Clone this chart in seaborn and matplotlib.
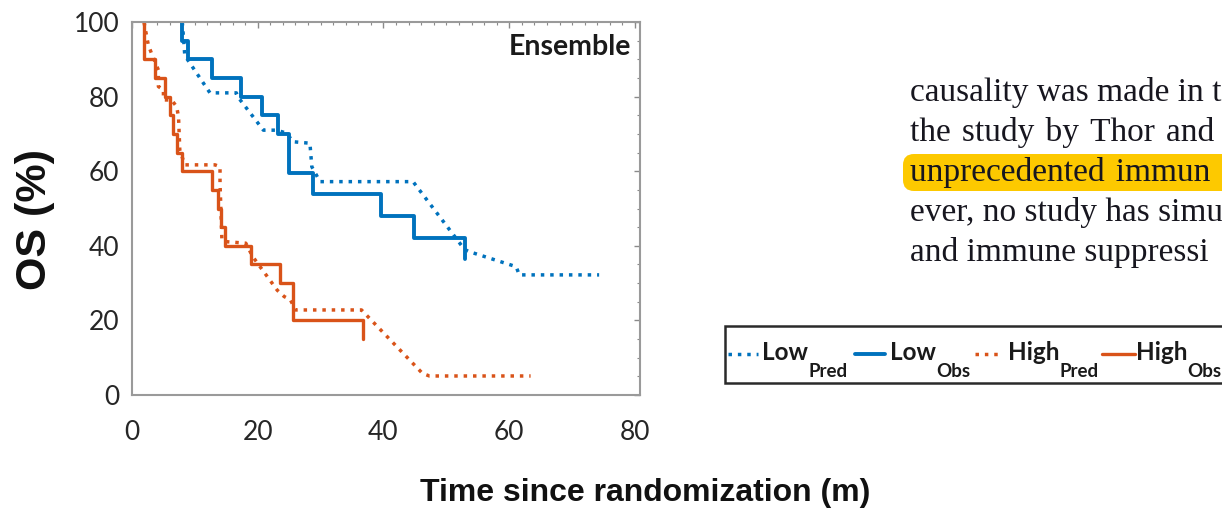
import numpy as np
import pandas as pd
import matplotlib
matplotlib.use("Agg")
import matplotlib.pyplot as plt
import seaborn as sns
from matplotlib.ticker import MultipleLocator
from matplotlib.patches import FancyBboxPatch, Rectangle
from matplotlib.lines import Line2D
from matplotlib.transforms import IdentityTransform

# ---------------- data ----------------
# Observed Kaplan-Meier curves (step points, steps-post)
low_obs_t = [8.0, 8.0, 8.95, 12.65, 17.4, 20.6, 23.2, 25.0, 28.8, 39.6, 44.9, 52.9]
low_obs_s = [100, 95, 90, 85, 80, 75, 70, 59.5, 54, 48, 42, 36.5]

high_obs_t = [1.9, 1.9, 3.66, 5.25, 6.04, 6.57, 7.1, 7.9, 12.65, 13.7, 14.2, 14.8,
              19.0, 23.5, 25.6, 36.7]
high_obs_s = [100, 90, 85, 80, 75, 70, 65, 60, 55, 50, 45, 40, 35, 30, 20, 15]

# Predicted curves (vertices)
low_pred_t = [8.0, 8.4, 12.4, 16.6, 16.8, 20.9, 23.0, 24.6, 25.6, 28.3, 28.6, 29.9,
              44.7, 52.9, 53.7, 61.1, 61.6, 74.3]
low_pred_s = [100, 91, 81, 81, 80, 71, 71, 70.2, 67.9, 67.5, 61.2, 57.2,
              57.2, 39, 38.4, 34.4, 32.2, 32.2]

high_pred_t = [1.9, 2.6, 3.1, 4.2, 4.2, 5.0, 5.0, 6.3, 7.1, 7.4, 7.6, 8.4, 13.2, 14.0,
               14.0, 14.3, 15.0, 18.1, 19.2, 23.1, 24.2, 25.2, 26.0, 36.5, 46.2, 47.3, 63.4]
high_pred_s = [100, 93.8, 91.6, 87.1, 82.7, 81.8, 79.1, 79.1, 77.3, 74.6, 65.7, 61.7, 61.7, 61.2,
               56.7, 41.6, 41.1, 40.7, 37.1, 28.1, 26.4, 25.5, 22.8, 22.8, 5.8, 5.1, 5.1]

x_ticks = [0, 20, 40, 60, 80]
y_ticks = [0, 20, 40, 60, 80, 100]
legend_main = ["Low", "Low", "High", "High"]
legend_sub = ["Pred", "Obs", "Pred", "Obs"]
panel_title = "Ensemble"
x_label = "Time since randomization (m)"
y_label = "OS (%)"
SP = " \u200a"  # slightly widened (justified) word space
para_lines = ["causality was made in t",
              SP.join(["the", "study", "by", "Thor", "and"]),
              SP.join(["unprecedented", "immun"]),
              "ever, no study has simu",
              "and immune suppressi"]

BLUE = "#0072BD"
RED = "#D95319"

# ---------------- style ----------------
sns.set_theme(style="white")
plt.rcParams["font.family"] = ["Lato", "DejaVu Sans"]

W, H = 1222, 515
fx = lambda px: px / W
fy = lambda py: 1 - py / H

fig = plt.figure(figsize=(W / 100, H / 100), dpi=100)
fig.patch.set_facecolor("white")
ax = fig.add_axes([fx(132), fy(395), (640 - 132) / W, (395 - 22) / H])

dot = (0, (1.0, 1.7))
series = [
    (low_pred_t, low_pred_s, BLUE, 2.5, dot, None),
    (low_obs_t, low_obs_s, BLUE, 2.8, "-", "steps-post"),
    (high_pred_t, high_pred_s, RED, 2.5, dot, None),
    (high_obs_t, high_obs_s, RED, 2.4, "-", "steps-post"),
]
for t, s, c, lw, ls, ds in series:
    df = pd.DataFrame({"t": t, "s": s})
    kw = dict(drawstyle=ds) if ds else {}
    sns.lineplot(data=df, x="t", y="s", ax=ax, color=c, lw=lw, linestyle=ls,
                 estimator=None, sort=False, dash_capstyle="butt", **kw)

ax.set_xlim(0, 80.8)
ax.set_ylim(0, 100)
ax.set_xticks(x_ticks)
ax.set_yticks(y_ticks)
ax.xaxis.set_minor_locator(MultipleLocator(2))
ax.yaxis.set_minor_locator(MultipleLocator(5))
ax.tick_params(which="both", direction="in", top=True, right=True, color="#8a8a8a")
ax.tick_params(which="major", length=4, width=1.0, labelsize=19, labelcolor="#262626")
ax.tick_params(axis="x", which="major", pad=18)
ax.tick_params(axis="y", which="major", pad=9)
ax.tick_params(which="minor", length=2, width=0.8)
for sp in ax.spines.values():
    sp.set_color("#9a9a9a")
    sp.set_linewidth(1.5)
ax.set_xlabel("")
ax.set_ylabel("")
ax.grid(False)

ax.text(0.982, 0.933, panel_title, transform=ax.transAxes, ha="right", va="center",
        fontsize=20.5, fontweight="bold", color="#1a1a1a", family=["Lato", "DejaVu Sans"])

fig.text(fx(645), fy(493), x_label, ha="center", va="center", fontsize=23,
         fontweight="bold", family=["Liberation Sans", "DejaVu Sans"], color="#111111")
fig.text(fx(35), fy(220), y_label, ha="center", va="center", rotation=90, fontsize=31,
         fontweight="bold", family=["Liberation Sans", "DejaVu Sans"], color="#111111")

# ---------------- legend (drawn with the plotted series' styles) ----------------
frame = Rectangle((fx(725), fy(383)), fx(1300) - fx(725), fy(326) - fy(383),
                  transform=fig.transFigure, facecolor="white", edgecolor="#2a2a2a",
                  linewidth=1.8, zorder=3)
fig.patches.append(frame)
seg = [(728, 758), (855, 885), (975, 1003), (1102, 1135)]
text_x = [762, 890, 1008, 1136]
fig.canvas.draw()
renderer = fig.canvas.get_renderer()
for (t, s, c, lw, ls, ds), (x0, x1), tx, mtxt, stxt in zip(series, seg, text_x,
                                                           legend_main, legend_sub):
    ln = Line2D([fx(x0), fx(x1)], [fy(354), fy(354)], transform=fig.transFigure,
                color=c, lw=lw, linestyle=ls, dash_capstyle="butt", zorder=4)
    fig.add_artist(ln)
    t_main = fig.text(fx(tx), fy(360), mtxt, ha="left", va="baseline", fontsize=17.5,
                      fontweight="bold", color="#1a1a1a", zorder=4)
    bb = t_main.get_window_extent(renderer)
    fig.text(bb.x1 / W, fy(377), stxt, ha="left", va="baseline", fontsize=13.5,
             fontweight="bold", color="#1a1a1a", zorder=4)

# ---------------- paragraph excerpt on the right ----------------
hl = FancyBboxPatch((903, H - 191), 400, 37, boxstyle="round,pad=0,rounding_size=11",
                    transform=IdentityTransform(), facecolor="#FDC900", edgecolor="none",
                    zorder=0)
fig.patches.append(hl)
baselines = [101, 141.5, 181, 221.5, 261.5]
for txt, yb in zip(para_lines, baselines):
    fig.text(fx(910), fy(yb), txt, ha="left", va="baseline", fontsize=24,
             family=["Liberation Serif", "DejaVu Serif"], color="#17161f", zorder=2)

fig.savefig("out.png", dpi=100)
